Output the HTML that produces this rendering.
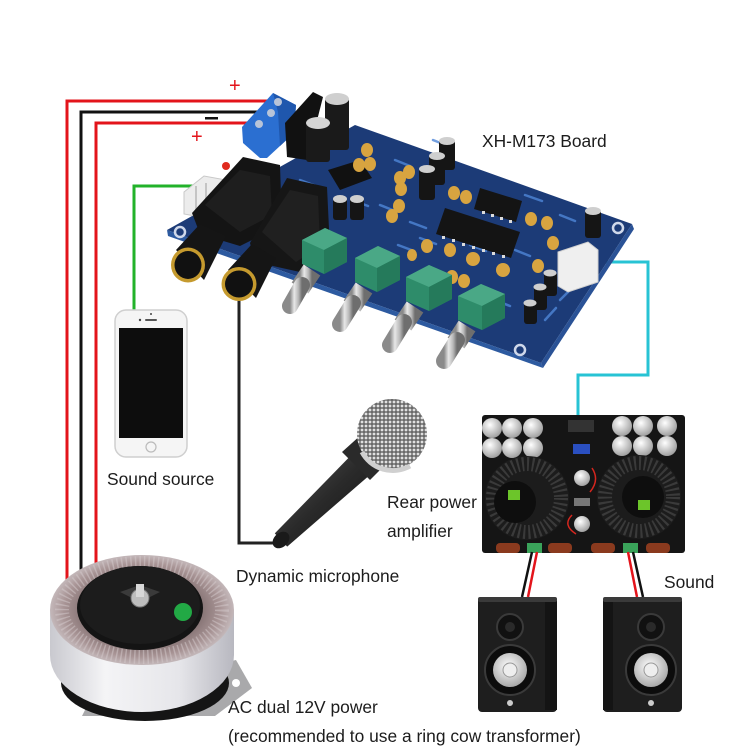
<!DOCTYPE html>
<html><head><meta charset="utf-8"><style>
html,body{margin:0;padding:0;background:#fff;}
svg{display:block;}
text{font-family:"Liberation Sans",Arial,sans-serif;fill:#1c1c1c;font-size:17.4px;}
</style></head><body>
<svg width="750" height="750" viewBox="0 0 750 750" xmlns="http://www.w3.org/2000/svg">
<defs>
<linearGradient id="knob" x1="0" y1="0" x2="1" y2="0">
<stop offset="0" stop-color="#8a8a8a"/><stop offset="0.35" stop-color="#e8e8e8"/><stop offset="0.7" stop-color="#b8b8b8"/><stop offset="1" stop-color="#6e6e6e"/></linearGradient>
<linearGradient id="side" x1="0" y1="0" x2="1" y2="0">
<stop offset="0" stop-color="#c9c9cf"/><stop offset="0.3" stop-color="#f4f4f6"/><stop offset="0.7" stop-color="#e6e6ea"/><stop offset="1" stop-color="#b8b8c0"/></linearGradient>
<radialGradient id="topface" cx="0.5" cy="0.5" r="0.5">
<stop offset="0.6" stop-color="#7f6d6e"/><stop offset="0.85" stop-color="#a89495"/><stop offset="1" stop-color="#c4b8ba"/></radialGradient>
<linearGradient id="mic" x1="0" y1="0" x2="1" y2="1">
<stop offset="0" stop-color="#5a5a5a"/><stop offset="0.5" stop-color="#2a2a2a"/><stop offset="1" stop-color="#111"/></linearGradient>
<pattern id="mesh" width="4" height="4" patternUnits="userSpaceOnUse">
<rect width="4" height="4" fill="#6a6a6a"/><circle cx="2" cy="2" r="1.4" fill="#e0e0e0"/></pattern>
<radialGradient id="cone" cx="0.45" cy="0.4" r="0.6">
<stop offset="0" stop-color="#ffffff"/><stop offset="1" stop-color="#a8a8a8"/></radialGradient>
<radialGradient id="cap" cx="0.4" cy="0.35" r="0.7">
<stop offset="0" stop-color="#ffffff"/><stop offset="1" stop-color="#9a9a9a"/></radialGradient>
</defs>

<!-- power wires -->
<polyline points="67,620 67,101 278,101" fill="none" stroke="#e3141b" stroke-width="3"/>
<polyline points="81,620 81,112 274,112" fill="none" stroke="#111" stroke-width="3"/>
<polyline points="96,620 96,123 259,123" fill="none" stroke="#e3141b" stroke-width="3"/>
<text x="229" y="92" style="fill:#e3141b;font-size:20px">+</text>
<rect x="205" y="117" width="13" height="2.5" fill="#111"/>
<text x="191" y="143" style="fill:#e3141b;font-size:20px">+</text>

<!-- green wire -->
<polyline points="134,312 134,186 202,186" fill="none" stroke="#22b22a" stroke-width="3"/>
<!-- cyan wire -->
<polyline points="573,262 648,262 648,375 578,375 578,450" fill="none" stroke="#27c3d4" stroke-width="3"/>
<!-- mic wire -->
<polyline points="239,296 239,543 284,543" fill="none" stroke="#222" stroke-width="3"/>

<!-- BOARD -->
<polygon points="167,230 355,125 632,224 541,363" fill="#1c3b77"/>
<polygon points="167,230 541,363 543,368 168,236" fill="#2d5aa0"/>
<polygon points="541,363 632,224 634,229 543,368" fill="#2a5296"/>
<g stroke="#4f86d8" stroke-width="2.5" stroke-linecap="round" opacity="0.8">
<line x1="345" y1="172" x2="362" y2="178"/><line x1="380" y1="205" x2="395" y2="211"/>
<line x1="410" y1="222" x2="426" y2="228"/><line x1="420" y1="238" x2="436" y2="244"/>
<line x1="470" y1="245" x2="486" y2="251"/><line x1="515" y1="250" x2="530" y2="256"/>
<line x1="525" y1="195" x2="542" y2="201"/><line x1="560" y1="215" x2="575" y2="221"/>
<line x1="352" y1="200" x2="368" y2="206"/><line x1="398" y1="245" x2="414" y2="251"/>
<line x1="495" y1="300" x2="510" y2="306"/><line x1="560" y1="300" x2="570" y2="290"/>
<line x1="433" y1="140" x2="448" y2="146"/><line x1="300" y1="180" x2="316" y2="186"/>
<line x1="395" y1="160" x2="410" y2="166"/><line x1="545" y1="320" x2="556" y2="308"/>
</g>
<g fill="#1c3b77" stroke="#cfd8ea" stroke-width="2.5">
<circle cx="618" cy="228" r="5"/><circle cx="520" cy="350" r="5"/><circle cx="180" cy="232" r="5"/>
</g>

<!-- terminal block -->
<polygon points="242,127 273,93 296,105 294,133 267,158 260,158 243,143" fill="#2b6fd1"/>
<polygon points="273,93 296,105 294,133 280,146 278,112" fill="#1f57ad"/>
<circle cx="278" cy="102" r="4" fill="#b8c4d8"/><circle cx="271" cy="113" r="4" fill="#b8c4d8"/><circle cx="259" cy="124" r="4" fill="#b8c4d8"/>
<polygon points="285,123 313,92 323,97 307,160 287,157" fill="#111"/>
<rect x="325" y="98" width="24" height="52" rx="3" fill="#1a1a1a"/><ellipse cx="337" cy="99" rx="12" ry="6" fill="#cfcfcf"/>
<rect x="306" y="122" width="24" height="40" rx="3" fill="#1a1a1a"/><ellipse cx="318" cy="123" rx="12" ry="6" fill="#d5d5d5"/>
<polygon points="328,170 360,160 372,178 340,190" fill="#111"/>

<g fill="#d8a440">
<ellipse cx="367" cy="150" rx="6" ry="7"/><ellipse cx="370" cy="164" rx="6" ry="7"/><ellipse cx="359" cy="165" rx="6" ry="7"/>
<ellipse cx="400" cy="178" rx="6" ry="7"/><ellipse cx="409" cy="172" rx="6" ry="7"/><ellipse cx="401" cy="189" rx="6" ry="7"/>
<ellipse cx="399" cy="206" rx="6" ry="7"/><ellipse cx="392" cy="216" rx="6" ry="7"/><ellipse cx="454" cy="193" rx="6" ry="7"/>
<ellipse cx="466" cy="197" rx="6" ry="7"/><ellipse cx="427" cy="246" rx="6" ry="7"/><ellipse cx="450" cy="250" rx="6" ry="7"/>
<ellipse cx="473" cy="259" rx="7" ry="7"/><ellipse cx="503" cy="270" rx="7" ry="7"/><ellipse cx="452" cy="277" rx="6" ry="7"/>
<ellipse cx="464" cy="281" rx="6" ry="7"/><ellipse cx="531" cy="219" rx="6" ry="7"/><ellipse cx="547" cy="223" rx="6" ry="7"/>
<ellipse cx="553" cy="243" rx="6" ry="7"/><ellipse cx="538" cy="266" rx="6" ry="7"/><ellipse cx="412" cy="255" rx="5" ry="6"/>
</g>
<g>
<rect x="439" y="140" width="16" height="30" rx="3" fill="#151515"/><ellipse cx="447" cy="141" rx="8" ry="4" fill="#cfcfcf"/>
<rect x="429" y="155" width="16" height="30" rx="3" fill="#151515"/><ellipse cx="437" cy="156" rx="8" ry="4" fill="#cfcfcf"/>
<rect x="419" y="168" width="16" height="32" rx="3" fill="#151515"/><ellipse cx="427" cy="169" rx="8" ry="4" fill="#cfcfcf"/>
<rect x="333" y="198" width="14" height="22" rx="3" fill="#151515"/><ellipse cx="340" cy="199" rx="7" ry="4" fill="#cfcfcf"/>
<rect x="350" y="198" width="14" height="22" rx="3" fill="#151515"/><ellipse cx="357" cy="199" rx="7" ry="4" fill="#cfcfcf"/>
<rect x="585" y="210" width="16" height="28" rx="3" fill="#151515"/><ellipse cx="593" cy="211" rx="8" ry="4" fill="#cfcfcf"/>
<rect x="544" y="272" width="13" height="24" rx="3" fill="#151515"/><ellipse cx="550" cy="273" rx="6.5" ry="3.5" fill="#cfcfcf"/>
<rect x="534" y="286" width="13" height="24" rx="3" fill="#151515"/><ellipse cx="540" cy="287" rx="6.5" ry="3.5" fill="#cfcfcf"/>
<rect x="524" y="302" width="13" height="22" rx="3" fill="#151515"/><ellipse cx="530" cy="303" rx="6.5" ry="3.5" fill="#cfcfcf"/>
</g>
<polygon points="480,188 522,201 516,222 474,209" fill="#141414"/>
<polygon points="445,208 520,232 511,258 436,234" fill="#141414"/>
<g fill="#dcdcdc">
<rect x="442" y="236" width="3" height="3"/><rect x="452" y="239" width="3" height="3"/><rect x="462" y="243" width="3" height="3"/>
<rect x="472" y="246" width="3" height="3"/><rect x="482" y="249" width="3" height="3"/><rect x="492" y="252" width="3" height="3"/><rect x="502" y="255" width="3" height="3"/>
<rect x="482" y="211" width="3" height="3"/><rect x="491" y="214" width="3" height="3"/><rect x="500" y="217" width="3" height="3"/><rect x="509" y="220" width="3" height="3"/>
</g>
<polygon points="558,252 588,242 598,250 598,282 568,292 558,286" fill="#efefef" stroke="#cfcfcf"/>
<polygon points="184,192 204,176 226,180 226,206 206,218 184,214" fill="#ececec" stroke="#c8c8c8"/>
<line x1="196" y1="186" x2="196" y2="212" stroke="#c4c4c4" stroke-width="2"/><line x1="206" y1="183" x2="206" y2="214" stroke="#c4c4c4" stroke-width="2"/>
<circle cx="226" cy="166" r="4" fill="#e02a1e"/>

<!-- jacks -->
<polygon points="192,213 243,157 280,165 282,225 240,246 200,234" fill="#141414"/>
<polygon points="205,205 240,170 270,176 272,215 240,232" fill="#1e1e1e"/>
<polygon points="176,250 200,224 226,236 204,280" fill="#151515"/>
<ellipse cx="188" cy="265" rx="17" ry="17.5" fill="#c59a2e"/>
<ellipse cx="188" cy="265" rx="13.5" ry="14" fill="#111"/>
<polygon points="250,243 287,178 327,187 330,250 300,272 255,262" fill="#161616"/>
<polygon points="262,232 290,190 318,196 320,246 296,262" fill="#202020"/>
<polygon points="228,270 252,244 276,258 256,298" fill="#151515"/>
<ellipse cx="239" cy="284" rx="17.5" ry="17" fill="#c59a2e"/>
<ellipse cx="239" cy="284" rx="14" ry="13.5" fill="#111"/>

<!-- pots and knobs -->
<g>
<polygon points="302,240 325,228 347,238 347,262 324,274 302,264" fill="#2e8c6a"/>
<polygon points="302,240 325,228 347,238 324,250" fill="#4aa886"/>
<polygon points="324,250 347,238 347,262 324,274" fill="#257a5b"/>
<line x1="312" y1="270" x2="300" y2="288" stroke="url(#knob)" stroke-width="20"/>
<line x1="302" y1="285" x2="290" y2="306" stroke="url(#knob)" stroke-width="16" stroke-linecap="round"/>
<polygon points="355,258 378,246 400,256 400,280 377,292 355,282" fill="#2e8c6a"/>
<polygon points="355,258 378,246 400,256 377,268" fill="#4aa886"/>
<polygon points="377,268 400,256 400,280 377,292" fill="#257a5b"/>
<line x1="364" y1="288" x2="352" y2="306" stroke="url(#knob)" stroke-width="20"/>
<line x1="353" y1="303" x2="340" y2="324" stroke="url(#knob)" stroke-width="16" stroke-linecap="round"/>
<polygon points="406,277 429,265 452,275 452,299 429,311 406,301" fill="#2e8c6a"/>
<polygon points="406,277 429,265 452,275 429,287" fill="#4aa886"/>
<polygon points="429,287 452,275 452,299 429,311" fill="#257a5b"/>
<line x1="415" y1="307" x2="403" y2="325" stroke="url(#knob)" stroke-width="20"/>
<line x1="404" y1="322" x2="390" y2="345" stroke="url(#knob)" stroke-width="16" stroke-linecap="round"/>
<polygon points="458,296 481,284 505,294 505,318 482,330 458,320" fill="#2e8c6a"/>
<polygon points="458,296 481,284 505,294 482,306" fill="#4aa886"/>
<polygon points="482,306 505,294 505,318 482,330" fill="#257a5b"/>
<line x1="467" y1="326" x2="456" y2="343" stroke="url(#knob)" stroke-width="20"/>
<line x1="457" y1="340" x2="444" y2="361" stroke="url(#knob)" stroke-width="16" stroke-linecap="round"/>
</g>

<text x="482" y="147">XH-M173 Board</text>

<!-- phone -->
<rect x="115" y="310" width="72" height="147" rx="11" fill="#f5f5f5" stroke="#cfcfcf" stroke-width="1.5"/>
<rect x="119" y="328" width="64" height="110" fill="#0d0d0d"/>
<circle cx="151" cy="447" r="5" fill="none" stroke="#bbb" stroke-width="1.2"/>
<rect x="145" y="319" width="12" height="2" rx="1" fill="#555"/><circle cx="140" cy="320" r="1.2" fill="#444"/><circle cx="151" cy="314" r="1" fill="#444"/>
<text x="107" y="485">Sound source</text>

<!-- microphone -->
<polygon points="274.8,533.4 358.4,447.8 377.6,468.2 287.2,546.6" fill="url(#mic)"/>
<ellipse cx="281" cy="540" rx="9.5" ry="7" transform="rotate(-43 281 540)" fill="#1a1a1a"/>
<polygon points="342,452 362,434 388,462 370,480" fill="#2a2a2a"/>
<circle cx="392" cy="434" r="35" fill="url(#mesh)"/>
<path d="M362,452 A35,35 0 0 0 410,466" fill="none" stroke="#d0d0d0" stroke-width="5"/>
<text x="387" y="508">Rear power</text>
<text x="387" y="537">amplifier</text>
<text x="236" y="582">Dynamic microphone</text>

<!-- amplifier -->
<rect x="482" y="415" width="203" height="138" rx="3" fill="#151515"/>
<g fill="url(#cap)">
<circle cx="492" cy="428" r="10"/><circle cx="512" cy="428" r="10"/><circle cx="533" cy="428" r="10"/>
<circle cx="492" cy="448" r="10"/><circle cx="512" cy="448" r="10"/><circle cx="533" cy="448" r="10"/>
<circle cx="622" cy="426" r="10"/><circle cx="643" cy="426" r="10"/><circle cx="667" cy="426" r="10"/>
<circle cx="622" cy="446" r="10"/><circle cx="643" cy="446" r="10"/><circle cx="667" cy="446" r="10"/>
</g>
<rect x="568" y="420" width="26" height="12" fill="#333"/>
<rect x="573" y="444" width="17" height="10" fill="#2a4fc0"/>
<circle cx="527" cy="498" r="42" fill="#1c1c1c"/>
<circle cx="527" cy="498" r="34" fill="none" stroke="#3a3a3a" stroke-width="14" stroke-dasharray="2 3"/>
<circle cx="515" cy="502" r="21" fill="#0e0e0e"/>
<rect x="508" y="490" width="12" height="10" fill="#6cc52a"/>
<circle cx="639" cy="497" r="42" fill="#1c1c1c"/>
<circle cx="639" cy="497" r="34" fill="none" stroke="#3a3a3a" stroke-width="14" stroke-dasharray="2 3"/>
<circle cx="643" cy="497" r="21" fill="#0e0e0e"/>
<rect x="638" y="500" width="12" height="10" fill="#6cc52a"/>
<circle cx="582" cy="478" r="8" fill="url(#cap)"/><circle cx="582" cy="524" r="8" fill="url(#cap)"/>
<rect x="574" y="498" width="16" height="8" fill="#777"/>
<path d="M592,468 Q600,480 590,492 M572,515 Q562,525 576,534" fill="none" stroke="#d6261e" stroke-width="1.5"/>
<g fill="#8a3a1e">
<rect x="496" y="543" width="24" height="10" rx="4"/><rect x="548" y="543" width="24" height="10" rx="4"/>
<rect x="591" y="543" width="24" height="10" rx="4"/><rect x="646" y="543" width="24" height="10" rx="4"/>
</g>
<rect x="527" y="543" width="15" height="10" fill="#3aa35a"/><rect x="623" y="543" width="15" height="10" fill="#3aa35a"/>

<line x1="532" y1="552" x2="522" y2="597" stroke="#111" stroke-width="2.5"/>
<line x1="537" y1="552" x2="528" y2="597" stroke="#e3141b" stroke-width="2.5"/>
<line x1="628" y1="552" x2="637" y2="597" stroke="#e3141b" stroke-width="2.5"/>
<line x1="633" y1="552" x2="643" y2="597" stroke="#111" stroke-width="2.5"/>

<g>
<rect x="478" y="597" width="79" height="115" rx="4" fill="#1e1e1e"/>
<rect x="545" y="601" width="12" height="109" fill="#141414"/>
<rect x="478" y="597" width="79" height="5" rx="2" fill="#3a3a3a"/>
<circle cx="510" cy="627" r="13" fill="#111" stroke="#3a3a3a" stroke-width="2"/><circle cx="510" cy="627" r="5" fill="#2a2a2a"/>
<circle cx="510" cy="670" r="25" fill="#0c0c0c" stroke="#3a3a3a" stroke-width="2"/>
<circle cx="510" cy="670" r="17" fill="url(#cone)"/><circle cx="510" cy="670" r="7" fill="#eee" stroke="#999"/>
<circle cx="510" cy="703" r="3" fill="#ccc"/>
<rect x="603" y="597" width="79" height="115" rx="4" fill="#1e1e1e"/>
<rect x="603" y="601" width="10" height="109" fill="#141414"/>
<rect x="603" y="597" width="79" height="5" rx="2" fill="#3a3a3a"/>
<circle cx="651" cy="627" r="13" fill="#111" stroke="#3a3a3a" stroke-width="2"/><circle cx="651" cy="627" r="5" fill="#2a2a2a"/>
<circle cx="651" cy="670" r="25" fill="#0c0c0c" stroke="#3a3a3a" stroke-width="2"/>
<circle cx="651" cy="670" r="17" fill="url(#cone)"/><circle cx="651" cy="670" r="7" fill="#eee" stroke="#999"/>
<circle cx="651" cy="703" r="3" fill="#ccc"/>
</g>
<text x="664" y="588">Sound</text>

<!-- transformer -->
<polygon points="82,716 215,716 252,688 236,660 200,668 90,700" fill="#a9a9ab"/>
<circle cx="236" cy="683" r="4" fill="#fff"/>
<ellipse cx="145" cy="683" rx="84" ry="38" fill="#151515"/>
<ellipse cx="142" cy="655" rx="92" ry="57" fill="url(#side)"/>
<rect x="50" y="610" width="184" height="45" fill="url(#side)"/>
<ellipse cx="142" cy="610" rx="92" ry="55" fill="url(#topface)"/>
<ellipse cx="142" cy="610" rx="80" ry="47" fill="none" stroke="#d4cacc" stroke-width="14" stroke-dasharray="1.5 3" opacity="0.5"/>
<ellipse cx="140" cy="608" rx="63" ry="42" fill="#141414"/>
<ellipse cx="140" cy="605" rx="60" ry="39" fill="#1c1c1c"/>
<polygon points="120,592 140,585 160,592 140,602" fill="#3a3a3a"/>
<circle cx="140" cy="598" r="9" fill="#bdbdbd" stroke="#777"/>
<rect x="136" y="584" width="8" height="13" fill="#d8d8d8"/>
<circle cx="183" cy="612" r="9" fill="#22a945"/>

<text x="228" y="713">AC dual 12V power</text>
<text x="228" y="742">(recommended to use a ring cow transformer)</text>
</svg>
</body></html>
